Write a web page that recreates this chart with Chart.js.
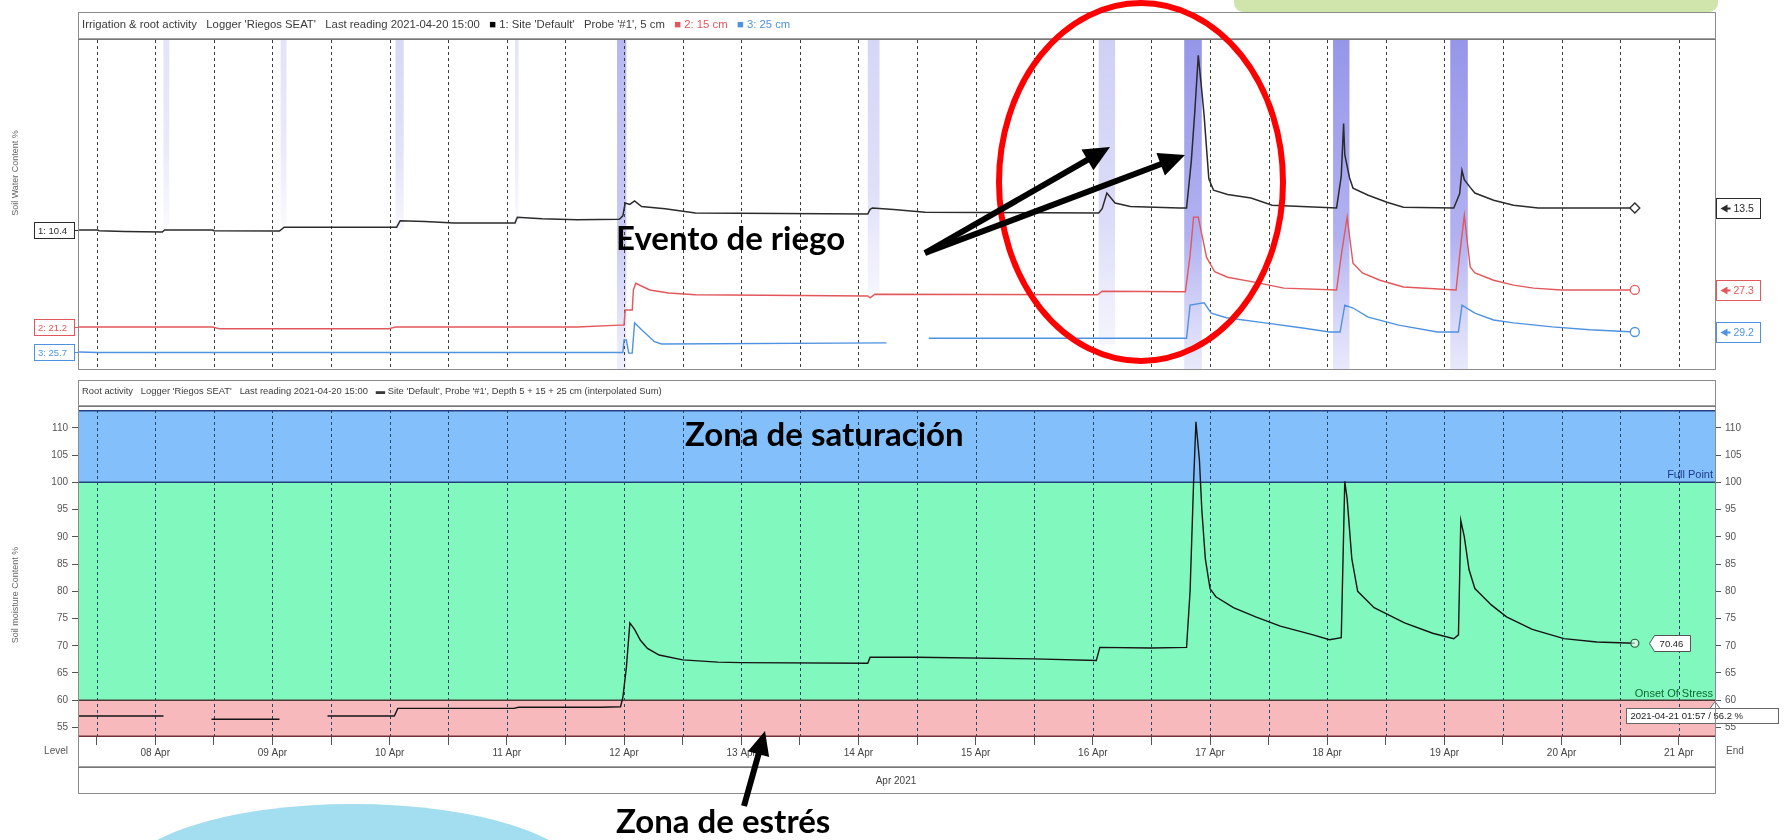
<!DOCTYPE html>
<html>
<head>
<meta charset="utf-8">
<title>Irrigation &amp; root activity</title>
<script src="https://cdn.jsdelivr.net/npm/chart.js@4.4.1/dist/chart.umd.min.js"></script>
<style>
  html, body { margin:0; padding:0; background:#ffffff; }
  body { position:relative; width:1790px; height:840px; overflow:hidden; font-family:"Liberation Sans", Arial, sans-serif; color:#333; }
  .layer { position:absolute; left:0; top:0; pointer-events:none; }
  .frame { position:absolute; box-sizing:border-box; border:1px solid #8c8c8c; pointer-events:none; }
  .rule { position:absolute; height:0; border-top:1px solid #a0a0a0; border-bottom:1px solid #777; pointer-events:none; }
  .hdr { position:absolute; white-space:nowrap; color:#3a3a3a; }
  .ytitle { position:absolute; font-size:9px; color:#666; white-space:nowrap; transform:translate(-50%,-50%) rotate(-90deg); }
  .small { position:absolute; font-size:10px; color:#555; white-space:nowrap; }
  .note { position:absolute; font-family:Lato, "Open Sans", sans-serif; font-weight:700; font-size:33px; line-height:38px; color:#000; white-space:nowrap; }
  canvas { position:absolute; }
</style>
</head>
<body>

<!-- slide decoration behind the charts -->
<svg class="layer" width="1790" height="840">
  <path d="M1234,0 H1718 V3 a9,9 0 0 1 -9,9 H1243 a9,9 0 0 1 -9,-9 Z" fill="#cfe5ac"/>
  <ellipse cx="353" cy="880" rx="230" ry="76" fill="#a3def0"/>
</svg>

<canvas id="topChart" width="1790" height="329" style="left:0;top:40px"></canvas>
<canvas id="bottomChart" width="1790" height="370" style="left:0;top:400px"></canvas>

<!-- panel frames -->
<div class="frame" style="left:78px;top:12px;width:1638px;height:358px"></div>
<div class="rule" style="left:78px;top:38px;width:1638px"></div>
<div class="frame" style="left:78px;top:380px;width:1638px;height:414px"></div>
<div class="rule" style="left:78px;top:405px;width:1638px"></div>
<div class="rule" style="left:78px;top:766px;width:1638px"></div>

<div class="hdr" style="left:82px;top:18px;font-size:11.3px">Irrigation &amp; root activity &nbsp; Logger 'Riegos SEAT' &nbsp; Last reading 2021-04-20 15:00 &nbsp; <span style="color:#000">&#9632;</span> 1: Site 'Default' &nbsp; Probe '#1', 5 cm &nbsp; <span style="color:#e2575b">&#9632; 2: 15 cm</span> &nbsp; <span style="color:#4f93e0">&#9632; 3: 25 cm</span></div>
<div class="hdr" style="left:82px;top:385px;font-size:9.4px">Root activity &nbsp; Logger 'Riegos SEAT' &nbsp; Last reading 2021-04-20 15:00 &nbsp; &#9644; Site 'Default', Probe '#1', Depth 5 + 15 + 25 cm (interpolated Sum)</div>

<div class="ytitle" style="left:15px;top:173px">Soil Water Content %</div>
<div class="ytitle" style="left:15px;top:595px">Soil moisture Content %</div>
<div class="small" style="right:1722px;top:745px">Level</div>
<div class="small" style="left:1726px;top:745px">End</div>
<div class="small" style="left:896px;top:775px;transform:translateX(-50%);color:#444">Apr 2021</div>

<!-- callouts -->
<svg class="layer" id="callouts" width="1790" height="840">
  <ellipse cx="1141" cy="182" rx="142" ry="179" fill="none" stroke="#ff0000" stroke-width="6"/>
</svg>
<div class="note" style="left:616px;top:218px">Evento de riego</div>
<div class="note" style="left:685px;top:414px">Zona de saturación</div>
<div class="note" style="left:616px;top:801px">Zona de estrés</div>

<script>
// ---------- time axis: day of April 2021 (fractional days) ----------
const X_MIN = 7.341, X_MAX = 21.309;
const gridTimes = [7.5, 8, 8.5, 9, 9.5, 10, 10.5, 11, 11.5, 12, 12.5, 13, 13.5, 14, 14.5,
                   15, 15.5, 16, 16.5, 17, 17.5, 18, 18.5, 19, 19.5, 20, 20.5, 21];

// ---------- irrigation events ----------
const irrigationStart = [8.07, 9.07, 10.05, 11.07, 11.94, 14.08, 16.05, 16.78, 18.05, 19.05];
const irrigationEnd   = [8.12, 9.12, 10.12, 11.10, 12.02, 14.18, 16.19, 16.93, 18.19, 19.20];
const irrigationMm    = [4.5, 4.5, 4.6, 4.5, 8, 6.2, 7.4, 8, 8, 8];
const irrigationFlow  = [2.2, 2.2, 3.0, 2.0, 5.5, 3.2, 3.6, 8, 8, 8];

// ---------- probe 1: 5 cm ----------
const probe5Time = [7.35, 7.51, 7.52, 7.74, 8.06, 8.08, 8.49, 8.50, 9.06, 9.10, 10.06, 10.09, 10.30, 10.55,
  11.07, 11.09, 11.30, 11.60, 11.96, 11.99, 12.01, 12.05, 12.09, 12.15, 12.35, 12.61, 14.08, 14.10, 14.12,
  14.30, 14.57, 16.05, 16.08, 16.12, 16.19, 16.32, 16.74, 16.80, 16.84, 16.87, 16.90, 16.93, 16.95, 16.97,
  16.99, 17.03, 17.15, 17.35, 17.53, 18.08, 18.12, 18.14, 18.15, 18.19, 18.22, 18.35, 18.51, 18.65, 19.08,
  19.13, 19.15, 19.17, 19.22, 19.26, 19.42, 19.59, 19.80, 20.625];
const probe5Value = [10.4, 10.4, 10.3, 10.2, 10.1, 10.4, 10.4, 10.3, 10.25, 10.8, 10.8, 11.7, 11.6, 11.4,
  11.4, 12.2, 12.0, 11.85, 11.9, 12.4, 14.2, 14.0, 14.5, 13.7, 13.4, 12.8, 12.65, 13.3, 13.5,
  13.3, 12.9, 12.8, 13.4, 15.6, 14.2, 13.7, 13.5, 13.5, 20.0, 27.0, 35.0, 30.0, 26.5, 22.0,
  17.6, 16.0, 15.4, 14.9, 13.9, 13.5, 18.0, 25.4, 21.0, 17.8, 16.3, 15.3, 14.3, 13.6, 13.5,
  15.5, 18.8, 17.5, 16.4, 15.6, 14.6, 13.9, 13.5, 13.5];

// ---------- probe 2: 15 cm ----------
const probe15Time = [7.35, 8.49, 8.55, 9.99, 10.05, 11.60, 11.96, 12.00, 12.01, 12.07, 12.08, 12.10, 12.22,
  12.38, 12.61, 14.08, 14.10, 14.14, 16.04, 16.08, 16.79, 16.83, 16.86, 16.90, 16.97, 17.04, 17.15, 17.40,
  17.63, 18.08, 18.12, 18.17, 18.22, 18.30, 18.45, 18.65, 19.10, 19.13, 19.17, 19.22, 19.26, 19.42, 19.59,
  19.76, 20.00, 20.625];
const probe15Value = [21.2, 21.2, 20.9, 20.9, 21.2, 21.2, 21.5, 21.5, 24.0, 24.0, 27.3, 28.4, 27.3,
  26.8, 26.5, 26.3, 26.0, 26.6, 26.5, 27.1, 27.0, 33.0, 39.3, 39.3, 32.7, 30.3, 29.4, 28.5,
  27.6, 27.3, 33.0, 39.3, 31.7, 30.1, 28.9, 27.8, 27.3, 33.0, 39.6, 31.1, 30.1, 28.9, 28.1,
  27.6, 27.3, 27.3];

// ---------- probe 3: 25 cm (null = missing readings) ----------
const probe25Time = [7.35, 7.51, 11.99, 12.00, 12.02, 12.04, 12.07, 12.09, 12.15, 12.26, 12.32, 14.24, 14.40,
  14.60, 16.80, 16.83, 16.95, 17.01, 17.14, 17.47, 17.79, 18.02, 18.11, 18.15, 18.22, 18.35, 18.61, 18.94,
  19.12, 19.15, 19.26, 19.42, 19.59, 19.92, 20.24, 20.625];
const probe25Value = [25.7, 25.6, 25.6, 27.8, 27.8, 25.5, 25.5, 30.8, 29.6, 27.5, 27.1, 27.3, null,
  28.1, 28.1, 33.9, 34.3, 32.5, 31.7, 30.8, 29.9, 29.2, 29.2, 33.9, 33.4, 31.8, 30.4, 29.2,
  29.2, 33.9, 32.5, 31.3, 30.8, 30.1, 29.6, 29.2];

// ---------- root zone sum (5 + 15 + 25 cm) ----------
const rootTime = [7.35, 8.07, 8.08, 8.48, 9.06, 9.07, 9.47, 10.04, 10.07, 11.06, 11.10, 11.80, 11.97, 11.99,
  12.02, 12.05, 12.09, 12.14, 12.20, 12.30, 12.50, 12.80, 13.00, 14.08, 14.10, 14.50, 15.50, 16.03, 16.06,
  16.50, 16.80, 16.83, 16.86, 16.88, 16.91, 16.93, 16.96, 17.00, 17.05, 17.20, 17.39, 17.60, 17.88, 18.02,
  18.12, 18.15, 18.17, 18.21, 18.26, 18.40, 18.66, 18.90, 19.08, 19.12, 19.14, 19.17, 19.21, 19.26, 19.40,
  19.53, 19.75, 20.02, 20.30, 20.625];
const rootValue = [57.1, 57.1, null, 56.5, 56.5, null, 57.1, 57.1, 58.5, 58.5, 58.7, 58.7, 58.8, 60.5,
  66.0, 74.2, 73.0, 71.0, 69.5, 68.3, 67.4, 67.0, 66.9, 66.8, 67.9, 67.9, 67.6, 67.3, 69.7,
  69.6, 69.7, 80.0, 100.0, 111.1, 104.0, 95.0, 86.0, 80.5, 79.0, 77.0, 75.3, 73.6, 72.0, 71.1,
  71.5, 100.2, 97.0, 86.0, 80.0, 77.0, 74.2, 72.3, 71.3, 72.0, 93.0, 90.0, 84.0, 80.5, 77.5,
  75.3, 73.0, 71.3, 70.7, 70.46];

// ---------- root zone thresholds and ticks ----------
const FULL_POINT = 100;
const ONSET_OF_STRESS = 60;
const rootTicks = [55, 60, 65, 70, 75, 80, 85, 90, 95, 100, 105, 110];
const cursorText = '2021-04-21 01:57 / 56.2 %';

// ------------------------------------------------------------------
const FONT = '"Liberation Sans", Arial, sans-serif';
Chart.defaults.font.family = FONT;
const pairs = (t, v) => t.map((x, i) => ({ x, y: v[i] }));
const dayLabel = d => (d < 10 ? '0' : '') + d + ' Apr';
const lastPointOnly = r => ctx => ctx.dataIndex === ctx.dataset.data.length - 1 ? r : 0;

function dashedVerticals(ctx, xScale, top, bottom, color) {
  ctx.save();
  ctx.strokeStyle = color;
  ctx.lineWidth = 1;
  ctx.setLineDash([3, 3]);
  gridTimes.forEach(t => {
    const px = Math.round(xScale.getPixelForValue(t)) + 0.5;
    ctx.beginPath(); ctx.moveTo(px, top); ctx.lineTo(px, bottom); ctx.stroke();
  });
  ctx.restore();
}

// irrigation bars hanging from the top edge (length = applied mm) + grid
const irrigationPlugin = {
  id: 'irrigation',
  beforeDraw(chart) {
    const { ctx, chartArea: a, scales: { x, yIrr } } = chart;
    ctx.save();
    irrigationStart.forEach((s, i) => {
      const x0 = x.getPixelForValue(s), x1 = x.getPixelForValue(irrigationEnd[i]);
      const yb = yIrr.getPixelForValue(irrigationMm[i]);
      const k = Math.min(1, irrigationFlow[i] / 8) * 0.72;
      const g = ctx.createLinearGradient(0, a.top, 0, yb);
      g.addColorStop(0, `rgba(110,110,225,${k})`);
      g.addColorStop(0.6, `rgba(120,120,230,${k * 0.8})`);
      g.addColorStop(1, `rgba(150,150,240,${k * 0.3})`);
      ctx.fillStyle = g;
      ctx.fillRect(x0, a.top, x1 - x0, yb - a.top);
    });
    ctx.restore();
    dashedVerticals(ctx, x, a.top, a.bottom, '#3c3c3c');
  }
};

// start / end value boxes for each probe
const probeLabelPlugin = {
  id: 'probeLabels',
  afterDraw(chart) {
    const { ctx, chartArea: a } = chart;
    ctx.save();
    ctx.font = '9.5px ' + FONT;
    ctx.textBaseline = 'middle';
    ctx.lineWidth = 1;
    chart.data.datasets.forEach((ds, i) => {
      const sc = chart.scales[ds.yAxisID];
      const first = ds.data[0].y, last = ds.data[ds.data.length - 1].y;
      const c = ds.borderColor;
      // left box: first reading
      let y = Math.round(sc.getPixelForValue(first)) + 0.5;
      ctx.fillStyle = '#fff'; ctx.strokeStyle = c;
      ctx.fillRect(34.5, y - 8, 40, 16); ctx.strokeRect(34.5, y - 8, 40, 16);
      ctx.beginPath(); ctx.moveTo(74.5, y); ctx.lineTo(a.left, y); ctx.stroke();
      ctx.fillStyle = c; ctx.textAlign = 'left';
      ctx.fillText(`${i + 1}: ${first.toFixed(1)}`, 38, y + 0.5);
      // right box: last reading
      y = Math.round(sc.getPixelForValue(last)) + 0.5;
      const bx = a.right + 1.5;
      ctx.fillStyle = '#fff';
      ctx.fillRect(bx, y - 10, 44, 20); ctx.strokeRect(bx, y - 10, 44, 20);
      ctx.fillStyle = c;
      ctx.beginPath(); ctx.moveTo(bx + 4, y); ctx.lineTo(bx + 11, y - 4); ctx.lineTo(bx + 11, y + 4); ctx.closePath(); ctx.fill();
      ctx.fillRect(bx + 10, y - 1, 4, 2);
      ctx.font = '10.5px ' + FONT;
      ctx.fillText(last.toFixed(1), bx + 17, y + 0.5);
      ctx.font = '9.5px ' + FONT;
    });
    ctx.restore();
  }
};

new Chart(document.getElementById('topChart'), {
  type: 'line',
  data: {
    datasets: [
      { label: '1: 5 cm', data: pairs(probe5Time, probe5Value), yAxisID: 'y5',
        borderColor: '#2b2b2b', borderWidth: 1.5, pointStyle: 'rectRot', pointRadius: lastPointOnly(5),
        pointBackgroundColor: '#fff', pointBorderColor: '#2b2b2b', pointBorderWidth: 1.3 },
      { label: '2: 15 cm', data: pairs(probe15Time, probe15Value), yAxisID: 'y15',
        borderColor: '#e2575b', borderWidth: 1.4, pointStyle: 'circle', pointRadius: lastPointOnly(4.5),
        pointBackgroundColor: '#fff', pointBorderColor: '#e2575b', pointBorderWidth: 1.3 },
      { label: '3: 25 cm', data: pairs(probe25Time, probe25Value), yAxisID: 'y25',
        borderColor: '#4f93e0', borderWidth: 1.4, pointStyle: 'circle', pointRadius: lastPointOnly(4.5),
        pointBackgroundColor: '#fff', pointBorderColor: '#4f93e0', pointBorderWidth: 1.3 }
    ]
  },
  options: {
    responsive: false, animation: false, events: [],
    layout: { autoPadding: false, padding: { left: 78, right: 75, top: 0, bottom: 0 } },
    plugins: { legend: { display: false }, tooltip: { enabled: false } },
    elements: { line: { tension: 0 } },
    scales: {
      x:    { type: 'linear', display: false, min: X_MIN, max: X_MAX },
      y5:   { type: 'linear', display: false, min: -9.18, max: 37.16 },
      y15:  { type: 'linear', display: false, min: 14.28, max: 68.48 },
      y25:  { type: 'linear', display: false, min: 22.72, max: 80.34 },
      yIrr: { type: 'linear', display: false, min: 0, max: 8, reverse: true }
    }
  },
  plugins: [irrigationPlugin, probeLabelPlugin]
});

// root zone: saturation / available / stress bands
const zonesPlugin = {
  id: 'zones',
  beforeDraw(chart) {
    const { ctx, chartArea: a, scales: { x, y } } = chart;
    const yFull = y.getPixelForValue(FULL_POINT), yStress = y.getPixelForValue(ONSET_OF_STRESS);
    ctx.save();
    ctx.fillStyle = '#83c0fb'; ctx.fillRect(a.left, a.top, a.width, yFull - a.top);
    ctx.fillStyle = '#80f8be'; ctx.fillRect(a.left, yFull, a.width, yStress - yFull);
    ctx.fillStyle = '#f8b9bd'; ctx.fillRect(a.left, yStress, a.width, a.bottom - yStress);
    ctx.restore();
    dashedVerticals(ctx, x, a.top, a.bottom, '#22476a');
    ctx.save();
    const hline = (py, color) => {
      ctx.strokeStyle = color; ctx.lineWidth = 1.5;
      ctx.beginPath(); ctx.moveTo(a.left, py); ctx.lineTo(a.right, py); ctx.stroke();
    };
    hline(a.top + 0.75, '#24407e');
    hline(Math.round(yFull) + 0.25, '#22407a');
    hline(Math.round(yStress) + 0.25, '#4d3a3a');
    hline(a.bottom - 0.75, '#6e3035');
    ctx.restore();
  },
  afterDraw(chart) {
    const { ctx, chartArea: a, scales: { x, y } } = chart;
    const yFull = y.getPixelForValue(FULL_POINT), yStress = y.getPixelForValue(ONSET_OF_STRESS);
    ctx.save();
    ctx.font = '11px ' + FONT;
    ctx.textAlign = 'right'; ctx.textBaseline = 'alphabetic';
    ctx.fillStyle = '#1d3b8a'; ctx.fillText('Full Point', a.right - 2, yFull - 4);
    ctx.fillStyle = '#0c6a30'; ctx.fillText('Onset Of Stress', a.right - 2, yStress - 3);

    // last reading box
    const n = rootValue.length - 1;
    const px = x.getPixelForValue(rootTime[n]), py = Math.round(y.getPixelForValue(rootValue[n])) + 0.5;
    const bx = Math.round(px) + 19.5;
    ctx.fillStyle = '#fff'; ctx.strokeStyle = '#555'; ctx.lineWidth = 1;
    ctx.beginPath();
    ctx.moveTo(bx - 5, py); ctx.lineTo(bx, py - 8); ctx.lineTo(bx + 36, py - 8);
    ctx.lineTo(bx + 36, py + 8); ctx.lineTo(bx, py + 8); ctx.closePath();
    ctx.fill(); ctx.stroke();
    ctx.font = '9.5px ' + FONT; ctx.fillStyle = '#222';
    ctx.textAlign = 'center'; ctx.textBaseline = 'middle';
    ctx.fillText(rootValue[n].toFixed(2), bx + 17, py + 0.5);

    // cursor read-out on the stress line
    const cy = Math.round(yStress) + 8.5;
    const cx0 = a.right - 88.5, cw = 152;
    ctx.fillStyle = '#fff'; ctx.strokeStyle = '#666';
    ctx.fillRect(cx0, cy, cw, 15); ctx.strokeRect(cx0, cy, cw, 15);
    ctx.beginPath(); ctx.moveTo(a.right - 5, cy); ctx.lineTo(a.right, cy - 7); ctx.lineTo(a.right + 5, cy); ctx.closePath();
    ctx.fill(); ctx.stroke();
    ctx.fillStyle = '#222'; ctx.font = '9.5px ' + FONT;
    ctx.textAlign = 'left';
    ctx.fillText(cursorText, cx0 + 4, cy + 8);
    ctx.restore();
  }
};

const rootYAxis = (position, width) => ({
  type: 'linear', position, min: 53.25, max: 113.28,
  afterBuildTicks: s => { s.ticks = rootTicks.map(v => ({ value: v })); },
  afterFit: s => { s.width = width; },
  ticks: { color: '#555', font: { size: 10 }, padding: 4 },
  grid: { drawOnChartArea: false, drawTicks: true, tickLength: 6, color: '#555' },
  border: { display: false }
});

new Chart(document.getElementById('bottomChart'), {
  type: 'line',
  data: {
    datasets: [{
      label: 'Root zone', data: pairs(rootTime, rootValue), yAxisID: 'y',
      borderColor: '#151515', borderWidth: 1.4, spanGaps: false,
      pointStyle: 'circle', pointRadius: lastPointOnly(4),
      pointBackgroundColor: 'rgba(255,255,255,0.6)', pointBorderColor: '#2d5a3a', pointBorderWidth: 1.2
    }]
  },
  options: {
    responsive: false, animation: false, events: [],
    layout: { autoPadding: false, padding: { left: 0, right: 0, top: 8, bottom: 0 } },
    plugins: { legend: { display: false }, tooltip: { enabled: false } },
    elements: { line: { tension: 0 } },
    scales: {
      x: {
        type: 'linear', min: X_MIN, max: X_MAX, offset: false,
        afterBuildTicks: s => { s.ticks = gridTimes.map(v => ({ value: v })); },
        afterFit: s => { s.height = 33; },
        ticks: { autoSkip: false, maxRotation: 0, color: '#444', font: { size: 10 }, padding: 2,
                 callback: v => Number.isInteger(v) ? dayLabel(v) : '' },
        grid: { drawOnChartArea: false, drawTicks: true, tickLength: 8, color: '#555' },
        border: { display: false }
      },
      y: rootYAxis('left', 78),
      y2: rootYAxis('right', 75)
    }
  },
  plugins: [zonesPlugin]
});

// arrows for the callouts
(function drawArrows() {
  const svg = document.getElementById('callouts');
  const NS = 'http://www.w3.org/2000/svg';
  const arrow = (sx, sy, tx, ty, head, half, w) => {
    const dx = tx - sx, dy = ty - sy, len = Math.hypot(dx, dy);
    const ux = dx / len, uy = dy / len, nx = -uy, ny = ux;
    const bx = tx - ux * head, by = ty - uy * head;
    const line = document.createElementNS(NS, 'line');
    line.setAttribute('x1', sx); line.setAttribute('y1', sy);
    line.setAttribute('x2', bx + ux * 2); line.setAttribute('y2', by + uy * 2);
    line.setAttribute('stroke', '#000'); line.setAttribute('stroke-width', w);
    svg.appendChild(line);
    const poly = document.createElementNS(NS, 'polygon');
    poly.setAttribute('points', `${tx},${ty} ${bx + nx * half},${by + ny * half} ${bx - nx * half},${by - ny * half}`);
    poly.setAttribute('fill', '#000');
    svg.appendChild(poly);
  };
  arrow(925, 253, 1110, 147, 26, 12, 6);
  arrow(925, 253, 1185, 155, 26, 12, 6);
  arrow(744, 806, 765, 731, 24, 11, 6);
})();
</script>
</body>
</html>
